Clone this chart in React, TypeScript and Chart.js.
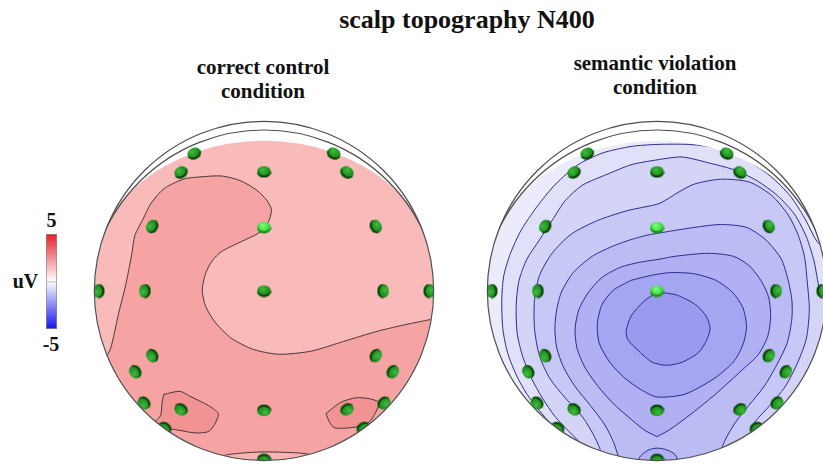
import React, { useEffect, useRef } from 'react';
import { Chart, registerables } from 'chart.js';

// ---------------- texts ----------------
const TITLE = 'scalp topography N400';
const LEFT_TITLE = ['correct control', 'condition'];
const RIGHT_TITLE = ['semantic violation', 'condition'];
const BAR_UNIT = 'uV';
const BAR_MAX = 5;
const BAR_MIN = -5;

// ---------------- electrode montage (head radius = 1) ----------------
const ELECTRODE_X = [-0.412, 0.412, -0.49, 0, 0.49, -0.66, 0, 0.66, -0.975, -0.703, 0, 0.703, 0.975, -0.66, 0.66, -0.76, 0.76, -0.708, -0.49, 0, 0.49, 0.708, -0.586, 0.586, 0];
const ELECTRODE_Y = [0.811, 0.811, 0.7, 0.703, 0.7, 0.381, 0.375, 0.381, 0, 0, 0, 0, 0, -0.382, -0.382, -0.477, -0.477, -0.661, -0.699, -0.705, -0.699, -0.661, -0.809, -0.809, -0.995];
const LEFT_BRIGHT = [6];
const RIGHT_BRIGHT = [6, 10];

// ---------------- correct control condition (positive map) ----------------
const LEFT_MAIN = [[-0.94, -0.41], [-0.903, -0.335], [-0.856, -0.127], [-0.818, 0.024], [-0.78, 0.214], [-0.761, 0.328], [-0.714, 0.422], [-0.666, 0.517], [-0.591, 0.602], [-0.477, 0.659], [-0.382, 0.672], [-0.25, 0.678], [-0.136, 0.649], [-0.041, 0.593], [0.015, 0.536], [0.044, 0.479], [0.024, 0.403], [-0.023, 0.347], [-0.136, 0.29], [-0.25, 0.233], [-0.307, 0.176], [-0.345, 0.101], [-0.364, 0.006], [-0.345, -0.089], [-0.288, -0.184], [-0.193, -0.278], [-0.061, -0.345], [0.091, -0.373], [0.28, -0.354], [0.47, -0.297], [0.659, -0.24], [0.811, -0.203], [0.953, -0.174], [1.02, -0.16]];
const LEFT_MAIN_CLOSE = [[1.3, -0.16], [1.3, -1.3], [-1.3, -1.3], [-1.3, -0.45]];
const LEFT_PATCH_A = [[-0.591, -0.61], [-0.496, -0.591], [-0.439, -0.619], [-0.326, -0.676], [-0.269, -0.723], [-0.288, -0.78], [-0.326, -0.828], [-0.402, -0.837], [-0.515, -0.818], [-0.572, -0.809], [-0.638, -0.771], [-0.609, -0.733], [-0.601, -0.658]];
const LEFT_PATCH_B = [[0.365, -0.723], [0.451, -0.657], [0.545, -0.629], [0.621, -0.635], [0.678, -0.657], [0.659, -0.714], [0.621, -0.771], [0.555, -0.799], [0.47, -0.809], [0.413, -0.805], [0.385, -0.771]];
const LEFT_BOTTOM = [[-0.278, -0.994], [-0.222, -0.966], [-0.023, -0.949], [0.205, -0.955], [0.318, -0.972], [0.375, -0.994]];
const LEFT_BOTTOM_CLOSE = [[0.45, -1.3], [-0.35, -1.3]];
const LEFT_COLORS = ['#f9baba', '#f5a3a3', '#f29393', '#f7b2b2'];

// ---------------- semantic violation condition (negative map) ----------------
const R_L1 = [[0, -0.006], [0.114, -0.023], [0.227, -0.08], [0.29, -0.148], [0.313, -0.222], [0.29, -0.295], [0.244, -0.364], [0.148, -0.42], [0.057, -0.438], [-0.028, -0.42], [-0.097, -0.364], [-0.17, -0.29], [-0.182, -0.239], [-0.153, -0.148], [-0.08, -0.063]];
const R_L2 = [[-0.153, 0.063], [-0.256, 0.006], [-0.324, -0.08], [-0.352, -0.193], [-0.341, -0.307], [-0.278, -0.42], [-0.193, -0.511], [-0.097, -0.58], [0, -0.625], [0.165, -0.608], [0.335, -0.517], [0.449, -0.42], [0.506, -0.318], [0.528, -0.21], [0.506, -0.097], [0.443, -0.006], [0.347, 0.063], [0.216, 0.102], [0.074, 0.108], [-0.04, 0.091]];
const R_L3 = [[0, -0.858], [0.074, -0.818], [0.205, -0.722], [0.358, -0.597], [0.489, -0.477], [0.597, -0.375], [0.653, -0.267], [0.67, -0.153], [0.659, -0.04], [0.619, 0.051], [0.545, 0.148], [0.449, 0.205], [0.301, 0.222], [0.108, 0.205], [0.017, 0.188], [-0.097, 0.17], [-0.21, 0.142], [-0.324, 0.08], [-0.403, -0.006], [-0.46, -0.108], [-0.483, -0.222], [-0.472, -0.335], [-0.426, -0.449], [-0.347, -0.563], [-0.256, -0.665], [-0.153, -0.756], [-0.068, -0.824]];
const R_OZ = [[-0.119, -1.017], [-0.097, -0.972], [-0.051, -0.938], [0, -0.926], [0.0625, -0.938], [0.108, -0.966], [0.131, -1.017]];
const R_OZ_CLOSE = [[0.15, -1.3], [-0.15, -1.3]];
const R_L4 = [[-0.222, -0.994], [-0.256, -0.892], [-0.307, -0.79], [-0.392, -0.676], [-0.483, -0.563], [-0.551, -0.449], [-0.591, -0.335], [-0.602, -0.222], [-0.591, -0.108], [-0.563, -0.006], [-0.494, 0.108], [-0.381, 0.205], [-0.239, 0.273], [-0.08, 0.324], [0.074, 0.352], [0.222, 0.375], [0.375, 0.392], [0.528, 0.375], [0.642, 0.301], [0.733, 0.188], [0.773, 0.063], [0.795, -0.051], [0.795, -0.165], [0.767, -0.307], [0.705, -0.438], [0.631, -0.563], [0.54, -0.676], [0.46, -0.778], [0.398, -0.886], [0.358, -0.994]];
const R_L4_CLOSE = [[0.4, -1.3], [-0.25, -1.3]];
const R_L5 = [[-0.324, -0.96], [-0.369, -0.858], [-0.438, -0.744], [-0.54, -0.631], [-0.631, -0.517], [-0.693, -0.381], [-0.722, -0.222], [-0.722, -0.051], [-0.693, 0.091], [-0.619, 0.222], [-0.506, 0.335], [-0.352, 0.415], [-0.182, 0.472], [-0.08, 0.494], [0.017, 0.517], [0.131, 0.585], [0.222, 0.631], [0.375, 0.659], [0.545, 0.642], [0.676, 0.563], [0.773, 0.449], [0.83, 0.335], [0.869, 0.205], [0.886, 0.051], [0.898, -0.108], [0.881, -0.278], [0.83, -0.42], [0.756, -0.563], [0.653, -0.688], [0.574, -0.778], [0.54, -0.886]];
const R_L5_CLOSE = [[0.56, -1.3], [-0.33, -1.3]];
const R_L6 = [[-0.4375, -0.909], [-0.517, -0.83], [-0.602, -0.739], [-0.676, -0.631], [-0.739, -0.517], [-0.79, -0.392], [-0.824, -0.25], [-0.83, -0.08], [-0.813, 0.063], [-0.767, 0.188], [-0.693, 0.301], [-0.619, 0.415], [-0.54, 0.534], [-0.4375, 0.625], [-0.295, 0.6875], [-0.153, 0.744], [0, 0.773], [0.148, 0.79], [0.301, 0.756], [0.449, 0.716], [0.585, 0.653], [0.71, 0.5625], [0.813, 0.449], [0.881, 0.318], [0.926, 0.176], [0.96, 0.006], [1.011, -0.08]];
const R_L6_CLOSE = [[1.3, -0.08], [1.3, -1.3], [-0.47, -1.3], [-0.47, -0.98]];
const R_L7 = [[-0.625, -0.784], [-0.693, -0.705], [-0.767, -0.608], [-0.83, -0.494], [-0.881, -0.364], [-0.909, -0.222], [-0.915, -0.051], [-0.903, 0.091], [-0.864, 0.222], [-0.801, 0.358], [-0.71, 0.494], [-0.597, 0.631], [-0.466, 0.744], [-0.324, 0.8125], [-0.153, 0.852], [0, 0.864], [0.1875, 0.864], [0.33, 0.847], [0.443, 0.8125], [0.557, 0.756], [0.67, 0.676], [0.784, 0.5625], [0.869, 0.432], [0.9375, 0.301], [0.994, 0.233]];
const R_L7_CLOSE = [[1.3, 0.233], [1.3, -1.3], [-0.7, -1.3], [-0.68, -0.85]];
// base, inside L7 ... inside L1
const RIGHT_COLORS = ['#ebebfb', '#e0e0f9', '#d4d4f7', '#c8c8f6', '#bcbcf4', '#b0b0f3', '#a5a5f1', '#9a9aef'];

// ---------------- geometry / style constants ----------------
const LIM = 1.12;
const CANVAS = 394;
const SCALP_R = 0.997;
const SCALP_A = 1.05;
const SCALP_B = 0.886;
const ARC_CY = -0.087;
const ARC_R = 1.036;
const FONT = '"Liberation Serif", "Times New Roman", Times, serif';

const toPts = (a: number[][]) => a.map(([x, y]) => ({ x, y }));

function geo(chart: any) {
  const xs = chart.scales.x;
  const ys = chart.scales.y;
  const cx = xs.getPixelForValue(0);
  const cy = ys.getPixelForValue(0);
  const u = xs.getPixelForValue(1) - cx;
  const uy = cy - ys.getPixelForValue(1);
  return { cx, cy, u, uy, ys };
}

function clipRegion(ctx: CanvasRenderingContext2D, g: any, mode: string) {
  ctx.beginPath();
  ctx.arc(g.cx, g.cy, g.u * (mode === 'scalp' ? SCALP_R : 1), 0, Math.PI * 2);
  ctx.clip();
  if (mode === 'scalp') {
    // flattened front (top) edge, full circle elsewhere
    const rx = g.u * SCALP_A;
    ctx.beginPath();
    ctx.ellipse(g.cx, g.cy, rx, g.uy * SCALP_B, 0, Math.PI, Math.PI * 2);
    ctx.lineTo(g.cx + rx, g.cy + rx * 3);
    ctx.lineTo(g.cx - rx, g.cy + rx * 3);
    ctx.closePath();
    ctx.clip();
  }
}

const topoPlugin: any = {
  id: 'topo',
  defaults: { enabled: false, base: 'transparent', outline: '#555' },
  beforeDatasetsDraw(chart: any, _a: any, opts: any) {
    if (!opts.enabled) return;
    const ctx = chart.ctx;
    ctx.save();
    clipRegion(ctx, geo(chart), 'scalp');
    ctx.fillStyle = opts.base;
    ctx.fillRect(0, 0, chart.width, chart.height);
    ctx.restore();
  },
  beforeDatasetDraw(chart: any, args: any) {
    const ds = chart.data.datasets[args.index];
    if (!ds || !ds.clipTo) return;
    chart.ctx.save();
    clipRegion(chart.ctx, geo(chart), ds.clipTo);
  },
  afterDatasetDraw(chart: any, args: any) {
    const ds = chart.data.datasets[args.index];
    if (!ds || !ds.clipTo) return;
    chart.ctx.restore();
  },
  afterDatasetsDraw(chart: any, _a: any, opts: any) {
    if (!opts.enabled) return;
    const ctx = chart.ctx;
    const g = geo(chart);
    ctx.save();
    ctx.strokeStyle = opts.outline;
    ctx.lineWidth = 1.2;
    ctx.beginPath();
    ctx.arc(g.cx, g.cy, g.u, 0, Math.PI * 2);
    ctx.stroke();
    ctx.beginPath();
    ctx.arc(g.cx, g.cy, g.u + 0.5, 0, Math.PI * 2);
    ctx.clip();
    ctx.beginPath();
    ctx.arc(g.cx, g.ys.getPixelForValue(ARC_CY), g.u * ARC_R, 0, Math.PI * 2);
    ctx.stroke();
    ctx.restore();
  },
};

Chart.register(topoPlugin);
Chart.register(...registerables);

function electrodeImage(light: boolean) {
  const c = document.createElement('canvas');
  c.width = 15;
  c.height = 13;
  const g = c.getContext('2d')!;
  g.fillStyle = light ? '#189418' : '#084708';
  g.beginPath();
  g.ellipse(7.5, 7.2, 7, 5.3, 0, 0, Math.PI * 2);
  g.fill();
  const grad = g.createRadialGradient(6, 4.2, 0.5, 7.5, 5.6, 7);
  grad.addColorStop(0, light ? '#80ff80' : '#3dbb3d');
  grad.addColorStop(1, light ? '#28cc28' : '#137e13');
  g.fillStyle = grad;
  g.beginPath();
  g.ellipse(7.5, 5.6, 6.5, 4.6, 0, 0, Math.PI * 2);
  g.fill();
  return c;
}

function fillDs(contour: number[][], close: number[][], color: string, order: number) {
  return {
    type: 'line',
    data: toPts([...contour, ...close, contour[0]]),
    fill: 'shape',
    backgroundColor: color,
    borderColor: 'rgba(0,0,0,0)',
    borderWidth: 0,
    pointRadius: 0,
    tension: 0.25,
    clipTo: 'scalp',
    order,
  };
}

function lineDs(contour: number[][], closed: boolean, color: string) {
  return {
    type: 'line',
    data: toPts(closed ? [...contour, contour[0]] : contour),
    fill: false,
    borderColor: color,
    borderWidth: 1,
    pointRadius: 0,
    tension: 0.25,
    clipTo: 'scalp',
    order: 5,
  };
}

function electrodeDs(bright: number[]) {
  const dark = electrodeImage(false);
  const light = electrodeImage(true);
  return {
    type: 'scatter',
    data: ELECTRODE_X.map((x, i) => ({ x, y: ELECTRODE_Y[i] })),
    pointStyle: ELECTRODE_X.map((_, i) => (bright.includes(i) ? light : dark)),
    rotation: ELECTRODE_X.map((x, i) => {
      const y = ELECTRODE_Y[i];
      if (Math.hypot(x, y) < 0.05) return 0;
      return (Math.atan2(-y, x) * 180) / Math.PI + 90;
    }),
    pointRadius: 6,
    clipTo: 'head',
    order: 0,
  };
}

function headOptions(base: string) {
  return {
    responsive: false,
    animation: false,
    events: [],
    layout: { padding: 0 },
    scales: {
      x: { type: 'linear', min: -LIM, max: LIM, display: false },
      y: { type: 'linear', min: -LIM, max: LIM, display: false },
    },
    plugins: {
      legend: { display: false },
      tooltip: { enabled: false },
      colors: { enabled: false },
      topo: { enabled: true, base, outline: '#4e4e4e' },
    },
  };
}

function leftConfig(): any {
  const stroke = '#4a3838';
  return {
    type: 'scatter',
    data: {
      datasets: [
        fillDs(LEFT_MAIN, LEFT_MAIN_CLOSE, LEFT_COLORS[1], 30),
        fillDs(LEFT_BOTTOM, LEFT_BOTTOM_CLOSE, LEFT_COLORS[3], 29),
        fillDs(LEFT_PATCH_A, [], LEFT_COLORS[2], 28),
        fillDs(LEFT_PATCH_B, [], LEFT_COLORS[2], 28),
        lineDs(LEFT_MAIN, false, stroke),
        lineDs(LEFT_BOTTOM, false, stroke),
        lineDs(LEFT_PATCH_A, true, stroke),
        lineDs(LEFT_PATCH_B, true, stroke),
        electrodeDs(LEFT_BRIGHT),
      ],
    },
    options: headOptions(LEFT_COLORS[0]),
  };
}

function rightConfig(): any {
  const stroke = '#2c2c8e';
  return {
    type: 'scatter',
    data: {
      datasets: [
        fillDs(R_L7, R_L7_CLOSE, RIGHT_COLORS[1], 37),
        fillDs(R_L6, R_L6_CLOSE, RIGHT_COLORS[2], 36),
        fillDs(R_L5, R_L5_CLOSE, RIGHT_COLORS[3], 35),
        fillDs(R_L4, R_L4_CLOSE, RIGHT_COLORS[4], 34),
        fillDs(R_L3, [], RIGHT_COLORS[5], 33),
        fillDs(R_OZ, R_OZ_CLOSE, RIGHT_COLORS[5], 32),
        fillDs(R_L2, [], RIGHT_COLORS[6], 31),
        fillDs(R_L1, [], RIGHT_COLORS[7], 30),
        lineDs(R_L7, false, stroke),
        lineDs(R_L6, false, stroke),
        lineDs(R_L5, false, stroke),
        lineDs(R_L4, false, stroke),
        lineDs(R_L3, true, stroke),
        lineDs(R_OZ, false, stroke),
        lineDs(R_L2, true, stroke),
        lineDs(R_L1, true, stroke),
        electrodeDs(RIGHT_BRIGHT),
      ],
    },
    options: headOptions(RIGHT_COLORS[0]),
  };
}

function colorbarConfig(): any {
  const grad = (fallback: string) => (c: any) => {
    const ch = c.chart;
    const ys = ch.scales.y;
    if (!ch.chartArea || !ys) return fallback;
    const g = ch.ctx.createLinearGradient(0, ys.getPixelForValue(BAR_MAX), 0, ys.getPixelForValue(BAR_MIN));
    g.addColorStop(0, '#e81d2b');
    g.addColorStop(0.5, '#ffffff');
    g.addColorStop(1, '#1414ee');
    return g;
  };
  return {
    type: 'bar',
    data: {
      labels: [BAR_UNIT],
      datasets: [
        { data: [BAR_MAX], backgroundColor: grad('#f88'), borderColor: '#8a8a8a', borderWidth: { top: 1, left: 1, right: 1, bottom: 0 }, borderSkipped: false, barPercentage: 1, categoryPercentage: 1 },
        { data: [BAR_MIN], backgroundColor: grad('#88f'), borderColor: '#8a8a8a', borderWidth: 1, borderSkipped: false, barPercentage: 1, categoryPercentage: 1 },
      ],
    },
    options: {
      responsive: false,
      animation: false,
      events: [],
      layout: { padding: 0 },
      scales: {
        x: { display: false, stacked: true },
        y: { display: false, stacked: true, min: BAR_MIN, max: BAR_MAX },
      },
      plugins: { legend: { display: false }, tooltip: { enabled: false }, colors: { enabled: false } },
    },
  };
}

function ChartCanvas(props: { make: () => any; left: number; top: number; width: number; height: number }) {
  const ref = useRef<HTMLCanvasElement>(null);
  useEffect(() => {
    const chart = new Chart(ref.current as HTMLCanvasElement, props.make());
    return () => chart.destroy();
  }, []);
  return (
    <canvas
      ref={ref}
      width={props.width}
      height={props.height}
      style={{ position: 'absolute', left: props.left, top: props.top, width: props.width, height: props.height }}
    />
  );
}

function Label(props: { text: string[]; cx: number; top: number; size: number; lh: number }) {
  return (
    <div
      style={{
        position: 'absolute',
        left: props.cx - 250,
        width: 500,
        top: props.top,
        textAlign: 'center',
        font: `bold ${props.size}px/${props.lh}px ${FONT}`,
        color: '#111',
        whiteSpace: 'nowrap',
      }}
    >
      {props.text.map((t, i) => (
        <div key={i}>{t}</div>
      ))}
    </div>
  );
}

export default function App() {
  const half = CANVAS / 2;
  return (
    <div style={{ position: 'fixed', left: 0, top: 0, width: 823, height: 465, overflow: 'hidden', background: '#fff' }}>
      <Label text={[TITLE]} cx={467} top={5} size={26} lh={30} />
      <Label text={LEFT_TITLE} cx={263} top={55} size={21} lh={24} />
      <Label text={RIGHT_TITLE} cx={655} top={51} size={21} lh={24} />
      <Label text={[String(BAR_MAX)]} cx={51.5} top={210} size={20} lh={20} />
      <Label text={[BAR_UNIT]} cx={25.5} top={271} size={20} lh={20} />
      <Label text={[String(BAR_MIN)]} cx={51} top={334} size={20} lh={20} />
      <ChartCanvas make={colorbarConfig} left={46} top={234} width={11} height={95} />
      <ChartCanvas make={leftConfig} left={264 - half} top={291 - half} width={CANVAS} height={CANVAS} />
      <ChartCanvas make={rightConfig} left={657 - half} top={291 - half} width={CANVAS} height={CANVAS} />
    </div>
  );
}
